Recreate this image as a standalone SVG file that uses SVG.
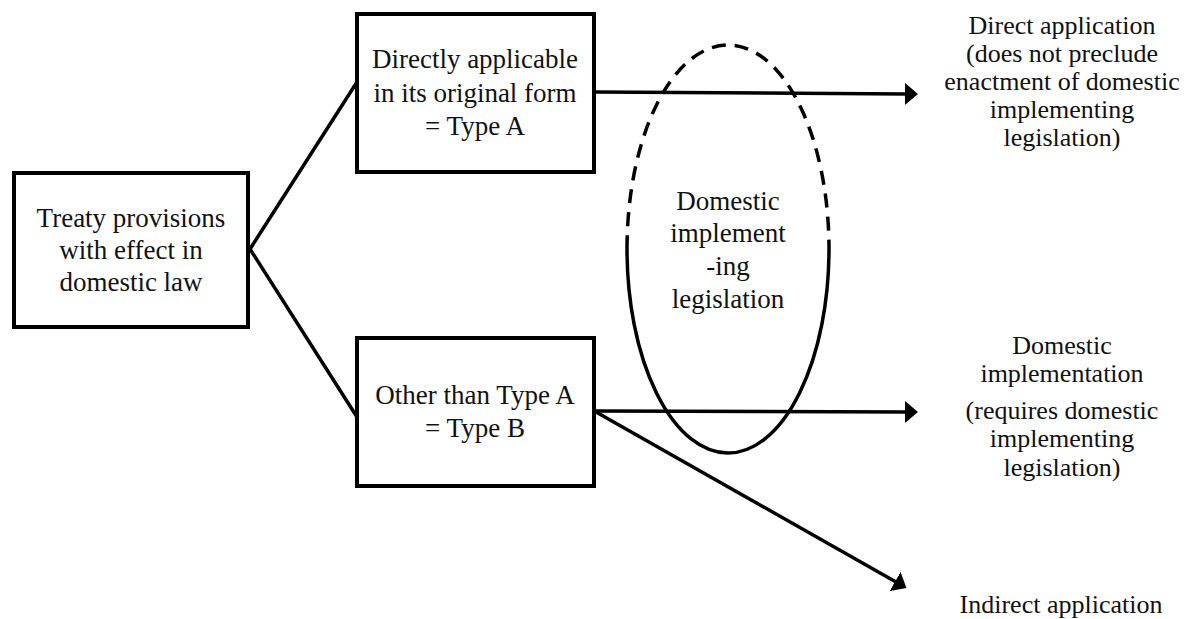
<svg xmlns="http://www.w3.org/2000/svg" width="1197" height="619" viewBox="0 0 1197 619">
<style>
.box{fill:#fff;stroke:#000;stroke-width:4}
.t{font-family:"Liberation Serif","Times New Roman",serif;font-size:27px;fill:#111;text-anchor:middle}
.r{font-size:26px}
.c{stroke:#000;stroke-width:3.5;fill:none}
</style>
<defs>
<marker id="ah" viewBox="0 0 13 22" refX="1" refY="11" markerWidth="13" markerHeight="22" markerUnits="userSpaceOnUse" orient="auto">
<path d="M0,0 L13,11 L0,22 Z" fill="#000"/>
</marker>
</defs>
<g id="connectors">
<line class="c" x1="250" y1="249" x2="357" y2="82"/>
<line class="c" x1="250" y1="249" x2="357" y2="417"/>
<line class="c" x1="596" y1="92" x2="906" y2="94" marker-end="url(#ah)"/>
<line class="c" x1="596" y1="411" x2="906" y2="412" marker-end="url(#ah)"/>
<line class="c" x1="596" y1="412" x2="896" y2="582" marker-end="url(#ah)"/>
</g>
<g id="treaty">
<rect class="box" x="14" y="173" width="234" height="154"/>
<text class="t" x="131" y="227">Treaty provisions</text>
<text class="t" x="131" y="259">with effect in</text>
<text class="t" x="131" y="291">domestic law</text>
</g>
<g id="typeA">
<rect class="box" x="357" y="14" width="237" height="158"/>
<text class="t" x="475" y="68">Directly applicable</text>
<text class="t" x="475" y="102">in its original form</text>
<text class="t" x="475" y="135">= Type A</text>
</g>
<g id="typeB">
<rect class="box" x="357" y="338" width="237" height="148"/>
<text class="t" x="475" y="404">Other than Type A</text>
<text class="t" x="475" y="437">= Type B</text>
</g>
<g id="legislation">
<path class="c" d="M627,249 A101,204 0 0 1 829,249" stroke-dasharray="14,9"/>
<path class="c" d="M627,249 A101,204 0 0 0 829,249"/>
<text class="t" x="728" y="210">Domestic</text>
<text class="t" x="728" y="242">implement</text>
<text class="t" x="728" y="275">-ing</text>
<text class="t" x="728" y="308">legislation</text>
</g>
<g id="direct">
<text class="t r" x="1062" y="34">Direct application</text>
<text class="t r" x="1062" y="62">(does not preclude</text>
<text class="t r" x="1062" y="90">enactment of domestic</text>
<text class="t r" x="1062" y="118">implementing</text>
<text class="t r" x="1062" y="146">legislation)</text>
</g>
<g id="domestic">
<text class="t r" x="1062" y="354">Domestic</text>
<text class="t r" x="1062" y="382">implementation</text>
<text class="t r" x="1062" y="419">(requires domestic</text>
<text class="t r" x="1062" y="447">implementing</text>
<text class="t r" x="1062" y="476">legislation)</text>
</g>
<g id="indirect">
<text class="t r" x="1061" y="613">Indirect application</text>
</g>
</svg>
